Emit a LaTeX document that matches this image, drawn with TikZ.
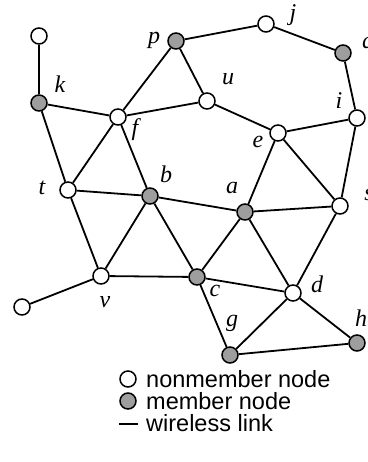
\documentclass[tikz,border=0pt]{standalone}
\usepackage{fontspec}
\setmainfont{Liberation Serif}
\newfontfamily\legfont{Liberation Sans}
\begin{document}
\begin{tikzpicture}[x=1pt,y=-1pt,
  nm/.style={circle,draw=black,line width=1.5pt,fill=white,minimum size=16pt,inner sep=0pt},
  mb/.style={nm,fill=black!38},
  lbl/.style={font=\fontsize{24}{24}\selectfont\itshape,inner sep=0pt},
  leg/.style={font=\legfont\fontsize{23.5}{23.5}\selectfont,anchor=west,inner sep=0pt},
  link/.style={line width=1.8pt}]
\useasboundingbox (0,0) rectangle (367,462);
% nodes
\node[nm] (n1) at (39,36) {};
\node[mb] (k) at (39,103) {};
\node[mb] (p) at (176,41) {};
\node[nm] (j) at (266,24) {};
\node[mb] (q) at (343,53) {};
\node[nm] (u) at (207,101) {};
\node[nm] (f) at (118,117) {};
\node[nm] (i) at (357,118) {};
\node[nm] (e) at (278,133) {};
\node[nm] (t) at (68,190) {};
\node[mb] (b) at (150,196) {};
\node[mb] (a) at (245,212) {};
\node[nm] (s) at (340,206) {};
\node[nm] (v) at (101,276) {};
\node[mb] (c) at (197,277) {};
\node[nm] (d) at (293,293) {};
\node[nm] (n2) at (22,307) {};
\node[mb] (g) at (230,355) {};
\node[mb] (h) at (357,343) {};
% labels
\node[lbl] (lk) at (60,84) {k};
\node[lbl] (lp) at (154,40) {p};
\node[lbl] (lj) at (293,15) {j};
\node[lbl] (lq) at (368,45) {q};
\node[lbl] (lu) at (228,79) {u};
\node[lbl] (lf) at (135,130) {f};
\node[lbl] (li) at (339,101) {i};
\node[lbl] (le) at (258,142) {e};
\node[lbl] (lt) at (42,188) {t};
\node[lbl] (lb) at (166,174) {b};
\node[lbl] (la) at (232,188) {a};
\node[lbl] (ls) at (369,195) {s};
\node[lbl] (lv) at (105,302) {v};
\node[lbl] (lc) at (215,291) {c};
\node[lbl] (ld) at (317,284) {d};
\node[lbl] (lg) at (232,323) {g};
\node[lbl] (lh) at (361,318) {h};
% links
\foreach \x/\y in {n1/k,k/f,k/t,p/f,p/u,p/j,j/q,q/i,f/u,u/e,f/t,f/b,e/i,e/a,e/s,i/s,t/b,t/v,b/v,b/a,b/c,a/s,a/c,a/d,s/d,v/c,v/n2,c/d,c/g,d/g,d/h,g/h}
  \draw[link] (\x) -- (\y);
% legend
\node[nm] (l1) at (128,379) {};
\node[mb] (l2) at (128,401) {};
\coordinate (la1) at (119,424);
\coordinate (la2) at (138,424);
\draw[line width=1.3pt] (la1) -- (la2);
\node[leg] (t1) at (146,379) {nonmember node};
\node[leg] (t2) at (146,401) {member node};
\node[leg] (t3) at (146,423) {wireless link};
\end{tikzpicture}
\end{document}
